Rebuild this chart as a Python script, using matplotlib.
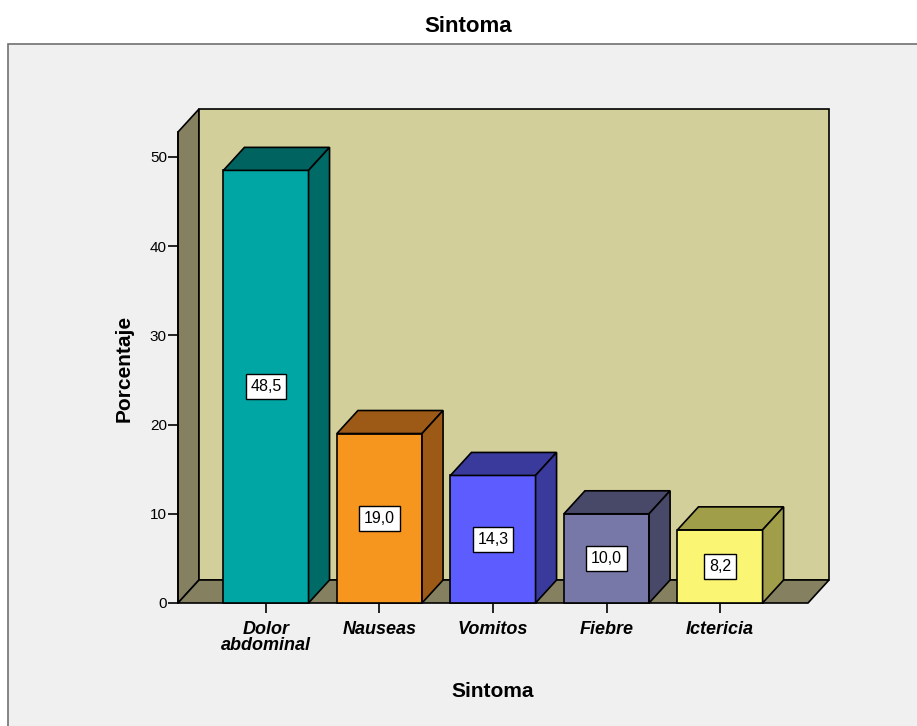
import matplotlib.pyplot as plt
from matplotlib.patches import Polygon, Rectangle

plt.rcParams['font.family'] = ['Liberation Sans', 'DejaVu Sans']

# data
categorias = ["Dolor\nabdominal", "Nauseas", "Vomitos", "Fiebre", "Ictericia"]
porcentajes = [48.5, 19.0, 14.3, 10.0, 8.2]
etiquetas = ["48,5", "19,0", "14,3", "10,0", "8,2"]
yticks = [0, 10, 20, 30, 40, 50]

# colours: front, top, side
frente = ["#00a6a3", "#f7961e", "#5c5cff", "#7878a8", "#faf573"]
arriba = ["#006360", "#9c5a16", "#3a3a9c", "#484868", "#a09e48"]
lado = ["#006a67", "#9c5a16", "#3a3a9c", "#484868", "#a09e48"]

W, H = 917, 726
fig = plt.figure(figsize=(W / 100, H / 100), dpi=100)
fig.patch.set_facecolor("white")

# outer grey frame
fig.patches.append(Rectangle((8 / W, -0.05), 1.0, 1 - 44 / H + 0.05,
                             transform=fig.transFigure, facecolor="#f0f0f0",
                             edgecolor="#707070", lw=1.2, zorder=-10))

px_per_unit = 8.92
ax = fig.add_axes([178 / W, 123 / H, 630 / W, 500 / H])
ax.set_xlim(-0.775, 4.775)
ax.set_ylim(0, 500 / px_per_unit)
ax.set_facecolor("none")

x0, x1 = -0.775, 4.775
dx = 21 / 113.5
dy = 23 / px_per_unit
T = 52.8
w = 0.75

def poly(pts, fc, z=2):
    ax.add_patch(Polygon(pts, closed=True, facecolor=fc, edgecolor="black",
                         lw=1.2, clip_on=False, zorder=z, joinstyle="miter"))

# walls and floor
poly([(x0, 0), (x0, T), (x0 + dx, T + dy), (x0 + dx, dy)], "#858060", 1)
poly([(x0 + dx, dy), (x1 + dx, dy), (x1 + dx, T + dy), (x0 + dx, T + dy)], "#d3cf9a", 1)
poly([(x0, 0), (x1, 0), (x1 + dx, dy), (x0 + dx, dy)], "#858060", 1)

# 3D bars
for i, v in enumerate(porcentajes):
    l, r = i - w / 2, i + w / 2
    poly([(l, 0), (r, 0), (r, v), (l, v)], frente[i], 3)
    poly([(l, v), (r, v), (r + dx, v + dy), (l + dx, v + dy)], arriba[i], 3)
    poly([(r, 0), (r, v), (r + dx, v + dy), (r + dx, dy)], lado[i], 3)
    ax.text(i, v / 2, etiquetas[i], ha="center", va="center", fontsize=11.5,
            zorder=5, bbox=dict(boxstyle="square,pad=0.3", fc="white",
                                ec="black", lw=1))

for s in ["top", "right", "bottom"]:
    ax.spines[s].set_visible(False)
ax.spines["left"].set_bounds(0, T)
ax.spines["left"].set_linewidth(1.2)
ax.set_yticks(yticks)
ax.set_yticklabels([str(t) for t in yticks], fontsize=11)
ax.tick_params(axis="y", direction="out", length=7, width=1.2, pad=1)
ax.set_xticks(range(len(categorias)))
ax.set_xticklabels(categorias, fontsize=13, fontweight="bold", style="italic",
                   linespacing=0.95)
ax.tick_params(axis="x", direction="out", length=7, width=1.2, pad=6)

ax.set_ylabel("Porcentaje", fontsize=15, fontweight="bold")
ax.yaxis.set_label_coords(-0.071, 0.47)
ax.set_xlabel("Sintoma", fontsize=15, fontweight="bold", labelpad=20)

fig.text(468 / W, 1 - 27 / H, "Sintoma", ha="center", va="center",
         fontsize=16, fontweight="bold")

fig.savefig("out.png", dpi=100)
